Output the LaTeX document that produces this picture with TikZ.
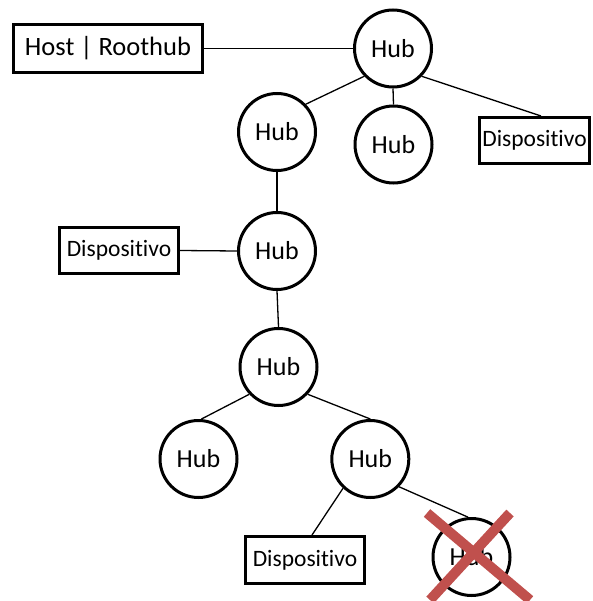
\documentclass[tikz,border=0pt]{standalone}
\usepackage{fontspec}
\setmainfont[Ligatures=CommonOff]{Carlito}
\usetikzlibrary{calc}
\definecolor{crossred}{HTML}{C0504D}
\tikzset{
  hub/.style={circle, draw, line width=3pt, minimum size=77pt, inner sep=0pt,
              font=\fontsize{26}{26}\selectfont},
  device/.style={rectangle, draw, line width=3pt, inner sep=0pt,
                 font=\fontsize{23.5}{23.5}\selectfont},
  host/.style={rectangle, draw, line width=3pt, inner sep=0pt,
               font=\fontsize{26.5}{26.5}\selectfont},
  link/.style={line width=1.3pt},
  cross/.style={line width=10pt, crossred}
}
\begin{document}
\begin{tikzpicture}[x=1pt, y=-1pt]
  \useasboundingbox (0,0) rectangle (592,601);

  % host controller and devices
  \node[host, minimum width=188.5pt, minimum height=48pt] (host) at (108,48.5) {\raisebox{-3pt}{Host | Roothub}};
  \node[device, minimum width=110pt, minimum height=46pt] (d1) at (534.5,140.5) {\raisebox{-1.5pt}{Dispositivo}};
  \node[device, minimum width=119pt, minimum height=46pt] (d2) at (119,250.5) {\raisebox{-1.5pt}{Dispositivo}};
  \node[device, minimum width=119pt, minimum height=47pt] (d3) at (305,560) {\raisebox{-1.5pt}{Dispositivo}};

  % hubs
  \node[hub] (h1) at (393,48.5) {\raisebox{-2pt}{Hub}};
  \node[hub] (h2) at (277,132) {\raisebox{-2pt}{Hub}};
  \node[hub] (h3) at (393.5,144.5) {\raisebox{-2pt}{Hub}};
  \node[hub] (h4) at (277,251) {\raisebox{-2pt}{Hub}};
  \node[hub] (h5) at (278.5,367) {\raisebox{-2pt}{Hub}};
  \node[hub] (h6) at (198.5,459) {\raisebox{-2pt}{Hub}};
  \node[hub] (h7) at (370.3,459) {\raisebox{-2pt}{Hub}};
  \node[hub] (h8) at (471.5,557) {\raisebox{-2pt}{Hub}};

  % bus connections
  \draw[link] (host.east) -- (h1.west);
  \draw[link] (h1.-136) -- (h2.44);
  \draw[link] (h1.south) -- (h3.north);
  \draw[link] (h1.-44) -- ([xshift=6.5pt]d1.north);
  \draw[link] (h2.south) -- (h4.north);
  \draw[link] (d2.east) -- (h4.west);
  \draw[link] (h4.south) -- (h5.north);
  \draw[link] (h5.-137) -- (h6.86);
  \draw[link] (h5.-43) -- (h7.north);
  \draw[link] (h7.-133) -- ([xshift=7pt]d3.north);
  \draw[link] (h7.-44) -- (h8.95);

  % removed hub
  \coordinate (xa) at ($(h8)+(-44.5,-44)$);
  \coordinate (xb) at ($(h8)+(58.5,43)$);
  \coordinate (xc) at ($(h8)+(38.5,-44)$);
  \coordinate (xd) at ($(h8)+(-41.5,43)$);
  \draw[cross] (xa) -- (xb);
  \draw[cross] (xc) -- (xd);
\end{tikzpicture}
\end{document}
